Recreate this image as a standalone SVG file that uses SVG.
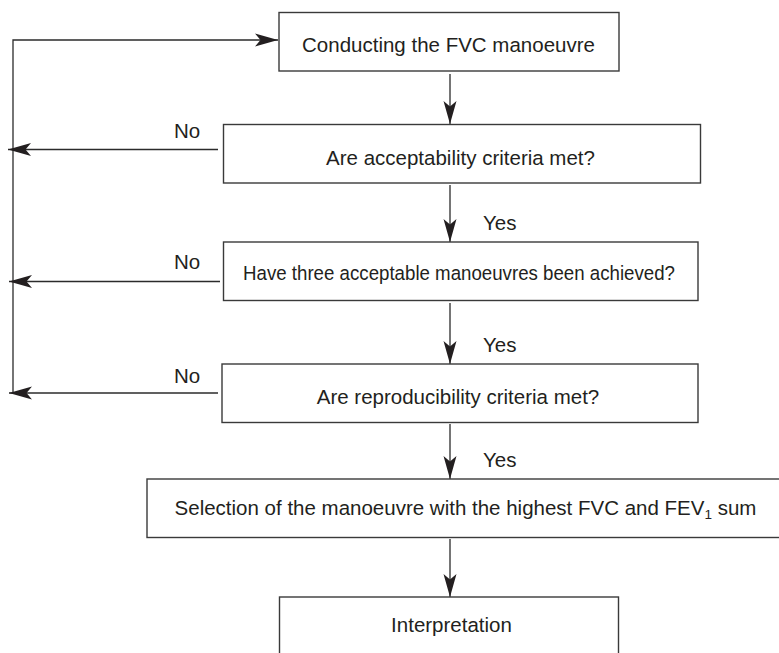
<svg xmlns="http://www.w3.org/2000/svg" width="779" height="653" viewBox="0 0 779 653">
<style>
.box{fill:#fff;stroke:#3a3a3a;stroke-width:1.4}
.ln{fill:none;stroke:#2b2b2b;stroke-width:1.3}
text{font-family:"Liberation Sans",Arial,sans-serif;font-size:20.5px;fill:#231f20}
.c{text-anchor:middle}
</style>
<defs>
<marker id="ah" markerUnits="userSpaceOnUse" viewBox="-25 -8 26 16" refX="0" refY="0" markerWidth="26" markerHeight="16" orient="auto">
<path d="M0,0 L-23,-6.5 L-17.5,0 L-23,6.5 Z" fill="#231f20"/>
</marker>
</defs>
<rect width="779" height="653" fill="#fff"/>
<g id="connectors">
<polyline class="ln" points="13,393 13,40 278,40" marker-end="url(#ah)"/>
<line class="ln" x1="218" y1="149.5" x2="8" y2="149.5" marker-end="url(#ah)"/>
<line class="ln" x1="220" y1="281.5" x2="9" y2="281.5" marker-end="url(#ah)"/>
<line class="ln" x1="218" y1="393" x2="9" y2="393" marker-end="url(#ah)"/>
<line class="ln" x1="450" y1="74" x2="450" y2="124" marker-end="url(#ah)"/>
<line class="ln" x1="450" y1="185" x2="450" y2="242" marker-end="url(#ah)"/>
<line class="ln" x1="450" y1="303" x2="450" y2="364" marker-end="url(#ah)"/>
<line class="ln" x1="450" y1="424" x2="450" y2="479" marker-end="url(#ah)"/>
<line class="ln" x1="450" y1="539" x2="450" y2="597" marker-end="url(#ah)"/>
<text x="174" y="138">No</text>
<text x="174" y="269">No</text>
<text x="174" y="382.5">No</text>
<text x="483" y="230">Yes</text>
<text x="483" y="351.5">Yes</text>
<text x="483" y="466.5">Yes</text>
</g>
<g id="n1">
<rect class="box" x="279" y="12.5" width="340" height="58.5"/>
<text class="c" x="448.5" y="52">Conducting the FVC manoeuvre</text>
</g>
<g id="n2">
<rect class="box" x="223.5" y="124.5" width="477" height="58.5"/>
<text class="c" x="460.5" y="165">Are acceptability criteria met?</text>
</g>
<g id="n3">
<rect class="box" x="223.5" y="242" width="474.5" height="58.5"/>
<text class="c" x="459" y="280" textLength="432" lengthAdjust="spacingAndGlyphs">Have three acceptable manoeuvres been achieved?</text>
</g>
<g id="n4">
<rect class="box" x="222" y="364" width="476" height="58.5"/>
<text class="c" x="458" y="404">Are reproducibility criteria met?</text>
</g>
<g id="n5">
<rect class="box" x="147" y="479" width="645" height="58.5"/>
<text class="c" x="465.5" y="514.5">Selection of the manoeuvre with the highest FVC and FEV<tspan dy="4" font-size="13.5">1</tspan><tspan dy="-4"> sum</tspan></text>
</g>
<g id="n6">
<rect class="box" x="279.5" y="597" width="339" height="80"/>
<text class="c" x="451.5" y="632">Interpretation</text>
</g>
</svg>
